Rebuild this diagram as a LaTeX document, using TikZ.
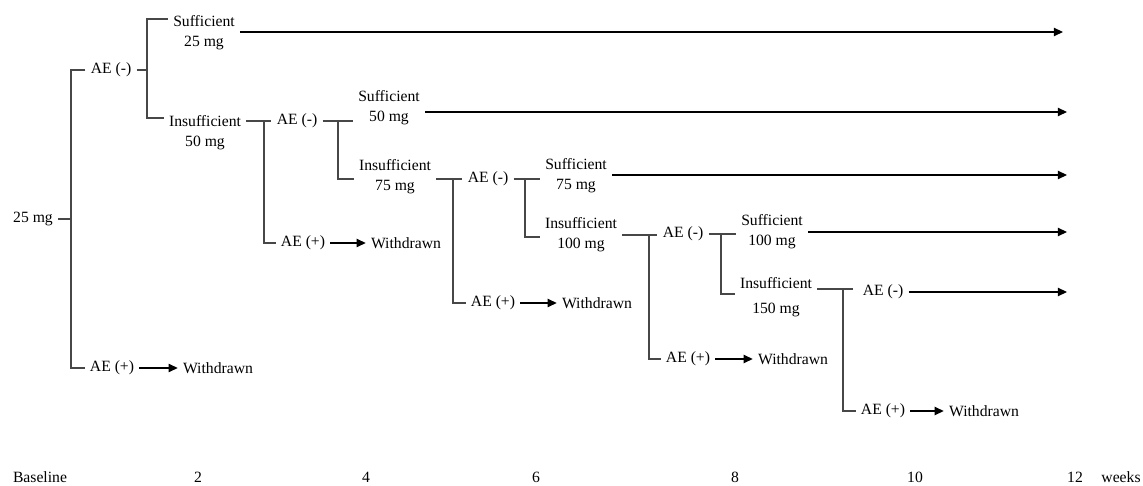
\documentclass[tikz,border=0pt]{standalone}
\usepackage{fontspec}
\setmainfont{Liberation Serif}
\usetikzlibrary{arrows.meta,positioning}
\tikzset{
  lbl/.style={
    align=center,
    inner xsep=3pt,
    inner ysep=1pt,
    font=\fontsize{9.4}{12}\selectfont
  },
  link/.style={
    line width=0.7pt,
    draw=black!72
  },
  arrow/.style={
    -{Triangle[length=5.5pt,width=5pt]},
    line width=0.7pt,
    draw=black
  }
}

\begin{document}
\begin{tikzpicture}[x=0.6pt,y=-0.6pt]
  \useasboundingbox (0,0) rectangle (1143,486);

  % dose steps
  \node[lbl] (start) at (33,219) {25 mg};
  \node[lbl] (ae1) at (111,70) {AE (-)};
  \node[lbl] (ae1p) at (112,368) {AE (+)};
  \node[lbl] (wd1) at (218,368) {Withdrawn};
  \node[lbl] (suf1) at (204,33) {Sufficient\\25 mg};
  \node[lbl] (ins1) at (205,133) {Insufficient\\50 mg};
  \node[lbl] (ae2) at (297,121) {AE (-)};
  \node[lbl] (ae2p) at (303,243) {AE (+)};
  \node[lbl] (wd2) at (406,243) {Withdrawn};
  \node[lbl] (suf2) at (389,108) {Sufficient\\50 mg};
  \node[lbl] (ins2) at (395,177) {Insufficient\\75 mg};
  \node[lbl] (ae3) at (488,179) {AE (-)};
  \node[lbl] (ae3p) at (493,303) {AE (+)};
  \node[lbl] (wd3) at (597,303) {Withdrawn};
  \node[lbl] (suf3) at (576,176) {Sufficient\\75 mg};
  \node[lbl] (ins3) at (581,235) {Insufficient\\100 mg};
  \node[lbl] (ae4) at (683,234) {AE (-)};
  \node[lbl] (ae4p) at (688,359) {AE (+)};
  \node[lbl] (wd4) at (793,359) {Withdrawn};
  \node[lbl] (suf4) at (772,232) {Sufficient\\100 mg};
  \node[lbl] (ins4) at (776,297) {Insufficient\\[3pt]150 mg};
  \node[lbl] (ae5) at (883,292) {AE (-)};
  \node[lbl] (ae5p) at (883,411) {AE (+)};
  \node[lbl] (wd5) at (984,411) {Withdrawn};

  % time axis
  \node[lbl] (wk0) at (40,477) {Baseline};
  \node[lbl] (wk2) at (198,477) {2};
  \node[lbl] (wk4) at (366,477) {4};
  \node[lbl] (wk6) at (536,477) {6};
  \node[lbl] (wk8) at (735,477) {8};
  \node[lbl] (wk10) at (915,477) {10};
  \node[lbl] (wk12) at (1075,477) {12};
  \node[lbl] (weeks) at (1121,477) {weeks};

  % forks
  \coordinate (f0) at (71,0);
  \coordinate (fa1) at (147,19);
  \coordinate (fa2) at (147,118);
  \coordinate (fb1) at (264,121);
  \coordinate (fc1) at (338,121);
  \coordinate (fc2) at (338,179);
  \coordinate (fd1) at (453,179);
  \coordinate (fe1) at (525,179);
  \coordinate (fe2) at (525,237);
  \coordinate (ff1) at (649,235);
  \coordinate (fg1) at (721,234);
  \coordinate (fg2) at (721,294);
  \coordinate (fh1) at (843,289);
  \coordinate (fh0) at (853,289);

  % arrow ends
  \coordinate (end1) at (1063,32);
  \coordinate (end2) at (1067,112);
  \coordinate (end3) at (1067,175);
  \coordinate (end4) at (1067,232);
  \coordinate (end5) at (1067,292);

  \draw[link] (start.east) -- (start.east -| f0);
  \draw[link] (ae1.west) -| (f0 |- ae1p.west) -- (ae1p.west);
  \draw[link] (ae1.east) -- (ae1.east -| fa1);
  \draw[link] (suf1.west |- fa1) -- (fa1) -- (fa2) -- (ins1.west |- fa2);

  \draw[link] (ins1.east |- fb1) -- (ae2.west |- fb1);
  \draw[link] (fb1) |- (ae2p.west);
  \draw[link] (ae2.east |- fc1) -- (suf2.west |- fc1);
  \draw[link] (fc1) -- (fc2) -- (ins2.west |- fc2);

  \draw[link] (ins2.east |- fd1) -- (ae3.west |- fd1);
  \draw[link] (fd1) |- (ae3p.west);
  \draw[link] (ae3.east |- fe1) -- (suf3.west |- fe1);
  \draw[link] (fe1) -- (fe2) -- (ins3.west |- fe2);

  \draw[link] (ins3.east |- ff1) -- (ae4.west |- ff1);
  \draw[link] (ff1) |- (ae4p.west);
  \draw[link] (ae4.east |- fg1) -- (suf4.west |- fg1);
  \draw[link] (fg1) -- (fg2) -- (ins4.west |- fg2);

  \draw[link] (ins4.east |- fh1) -- (fh0);
  \draw[link] (fh1) |- (ae5p.west);

  \draw[arrow] (suf1.east |- end1) -- (end1);
  \draw[arrow] (suf2.east |- end2) -- (end2);
  \draw[arrow] (suf3.east |- end3) -- (end3);
  \draw[arrow] (suf4.east |- end4) -- (end4);
  \draw[arrow] (ae5.east |- end5) -- (end5);

  \draw[arrow] (ae1p) -- (wd1);
  \draw[arrow] (ae2p) -- (wd2);
  \draw[arrow] (ae3p) -- (wd3);
  \draw[arrow] (ae4p) -- (wd4);
  \draw[arrow] (ae5p) -- (wd5);
\end{tikzpicture}
\end{document}
